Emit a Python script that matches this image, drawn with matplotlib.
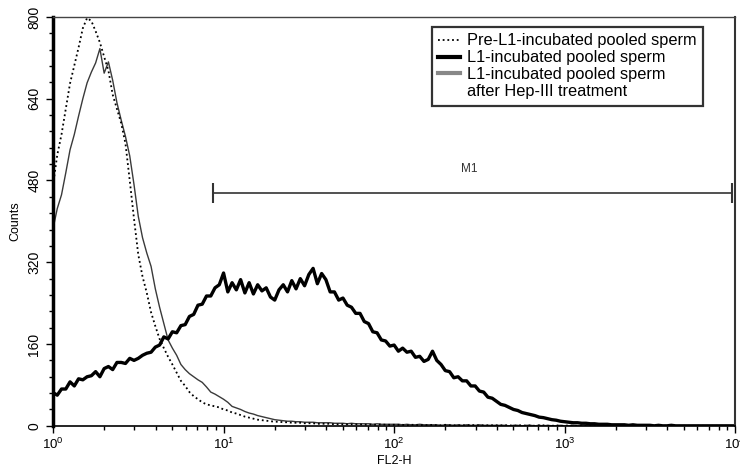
import matplotlib
matplotlib.use('Agg')
import numpy as np
import matplotlib.pyplot as plt
from matplotlib.lines import Line2D
from matplotlib.ticker import MultipleLocator, LogLocator, NullFormatter

plt.rcParams['font.family'] = ['Liberation Sans', 'DejaVu Sans']
plt.rcParams['mathtext.default'] = 'regular'

# FL2-H channels, 0.025 decade apart from 10^0 to 10^4
fl2_channels = np.logspace(0, 4, 161)

# L1-incubated pooled sperm (thick black)
counts_l1 = [
    65, 60, 72, 72, 86, 78, 92, 90,
    96, 98, 106, 96, 112, 116, 110, 124,
    124, 122, 132, 128, 132, 138, 142, 144,
    154, 158, 174, 170, 184, 182, 196, 198,
    214, 218, 236, 238, 254, 254, 270, 276,
    299, 262, 280, 266, 286, 260, 280, 258,
    276, 264, 270, 252, 246, 266, 276, 262,
    284, 268, 288, 274, 296, 308, 278, 298,
    286, 262, 262, 246, 250, 236, 232, 220,
    220, 204, 200, 184, 182, 168, 166, 156,
    158, 146, 152, 144, 146, 134, 136, 126,
    130, 146, 128, 120, 108, 106, 94, 96,
    88, 88, 78, 78, 68, 66, 56, 54,
    48, 42, 40, 36, 32, 30, 26, 24,
    22, 20, 17, 16, 14, 12, 11, 9,
    8, 7, 6, 6, 5, 5, 4, 4,
    3, 3, 3, 2, 2, 2, 2, 1,
    2, 1, 1, 1, 1, 0, 1, 0,
    0, 1, 0, 0, 0, 0, 0, 0,
    0, 0, 0, 0, 0, 0, 0, 0,
    0,
]

# Pre-L1-incubated pooled sperm (dotted)
counts_pre = [
    470, 530, 570, 620, 670, 705, 740, 778,
    798, 792, 772, 750, 722, 695, 648, 620,
    592, 552, 480, 405, 335, 292, 260, 222,
    195, 170, 152, 135, 120, 104, 88, 78,
    66, 58, 52, 46, 42, 40, 38, 36,
    32, 30, 26, 24, 21, 18, 16, 14,
    12, 11, 10, 9, 8, 8, 7, 7,
    6, 6, 6, 5, 5, 5, 4, 4,
    4, 4, 3, 3, 3, 3, 3, 3,
    3, 2, 3, 2, 2, 3, 2, 2,
    2, 2, 2, 1, 2, 2, 1, 2,
    1, 2, 1, 1, 2, 1, 1, 1,
    1, 1, 2, 1, 1, 1, 1, 1,
    1, 1, 1, 1, 0, 1, 1, 0,
    1, 0, 1, 1, 0, 0, 1, 0,
    0, 1, 0, 0, 1, 0, 0, 0,
    0, 0, 0, 0, 0, 0, 0, 0,
    0, 0, 0, 0, 0, 0, 0, 0,
    0, 0, 0, 0, 0, 0, 0, 0,
    0, 0, 0, 0, 0, 0, 0, 0,
    0,
]

# L1-incubated pooled sperm after Hep-III treatment (thin grey)
counts_hep = [
    385, 425, 452, 495, 540, 570, 606, 640,
    671, 692, 710, 738, 690, 712, 676, 632,
    598, 566, 528, 472, 410, 368, 338, 312,
    268, 232, 200, 168, 152, 138, 120, 110,
    102, 96, 90, 85, 76, 66, 62, 57,
    52, 46, 38, 35, 32, 28, 25, 23,
    20, 18, 16, 14, 12, 11, 10, 9,
    9, 8, 8, 7, 7, 7, 6, 6,
    6, 6, 5, 5, 5, 4, 5, 4,
    4, 4, 4, 3, 4, 3, 3, 3,
    3, 3, 2, 3, 2, 2, 3, 2,
    2, 2, 2, 1, 2, 2, 1, 2,
    1, 2, 1, 1, 2, 1, 1, 1,
    1, 1, 1, 0, 1, 1, 0, 1,
    1, 0, 1, 0, 1, 0, 0, 1,
    0, 0, 1, 0, 0, 0, 1, 0,
    0, 0, 0, 0, 0, 0, 0, 0,
    0, 0, 0, 0, 0, 0, 0, 0,
    0, 0, 0, 0, 0, 0, 0, 0,
    0, 0, 0, 0, 0, 0, 0, 0,
    0,
]

labels = ['Pre-L1-incubated pooled sperm',
          'L1-incubated pooled sperm',
          'L1-incubated pooled sperm',
          'after Hep-III treatment']

m1_start, m1_end, m1_level = 8.7, 9600, 455

fig = plt.figure(figsize=(7.4, 4.7), dpi=100)
ax = fig.add_axes([0.0716, 0.094, 0.922, 0.870])

ax.plot(fl2_channels, counts_hep, color='#3a3a3a', lw=1.0)
ax.plot(fl2_channels, counts_pre, color='black', lw=1.3, ls=(0, (1, 1.6)))
ax.plot(fl2_channels, counts_l1, color='black', lw=2.4)

# M1 marker
ax.hlines(m1_level, m1_start, m1_end, color='#333333', lw=1.2)
ax.vlines([m1_start, m1_end], m1_level - 20, m1_level + 20, color='#333333', lw=1.5)
ax.text(np.sqrt(m1_start * m1_end) * 0.95, m1_level + 47, 'M1', fontsize=8.5,
        ha='center', va='center', color='#333333')

ax.set_xscale('log')
ax.set_xlim(1, 1e4)
ax.set_ylim(0, 800)
ax.xaxis.set_major_locator(LogLocator(base=10, numticks=10))
ax.xaxis.set_minor_locator(LogLocator(base=10, subs=np.arange(2, 10), numticks=10))
ax.xaxis.set_minor_formatter(NullFormatter())
ax.yaxis.set_major_locator(MultipleLocator(160))
ax.yaxis.set_minor_locator(MultipleLocator(32))

ax.tick_params(axis='both', which='major', length=5, width=1, labelsize=9.5, direction='out')
ax.tick_params(axis='y', which='major', labelsize=10)
ax.tick_params(axis='both', which='minor', length=3, width=1, direction='out')
ax.tick_params(axis='x', pad=3)
for t in ax.get_yticklabels():
    t.set_rotation(90)
    t.set_va('center')

ax.spines['left'].set_linewidth(2.5)
ax.spines['bottom'].set_linewidth(1.2)
ax.spines['top'].set_linewidth(1.0)
ax.spines['top'].set_color('#444444')
ax.spines['right'].set_linewidth(1.5)
ax.spines['right'].set_color('#333333')

ax.set_xlabel('FL2-H', fontsize=9, labelpad=2)
ax.set_ylabel('Counts', fontsize=9, labelpad=4)

handles = [Line2D([], [], color='black', lw=1.3, ls=(0, (1, 1.6))),
           Line2D([], [], color='black', lw=3),
           Line2D([], [], color='#888888', lw=3),
           Line2D([], [], color='none')]
leg = ax.legend(handles, labels, loc='upper right', bbox_to_anchor=(0.953, 0.976),
                fontsize=11.8, frameon=True, fancybox=False, borderpad=0.4,
                labelspacing=0.12, handlelength=1.3, handletextpad=0.45,
                borderaxespad=0)
leg.get_frame().set_edgecolor('black')
leg.get_frame().set_linewidth(1.6)

fig.savefig('out.png', dpi=100)
